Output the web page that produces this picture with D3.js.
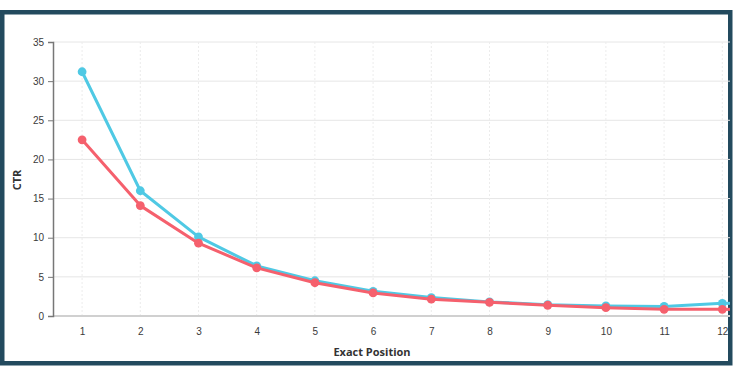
<!DOCTYPE html>
<html>
<head>
<meta charset="utf-8">
<script src="https://cdn.jsdelivr.net/npm/d3@7"></script>
<style>
  body { margin: 0; background: #fff; }
  svg { display: block; font-family: "Open Sans", "DejaVu Sans", sans-serif; }
</style>
</head>
<body>
<div id="chart"></div>
<script>
// positions 1..12 and the two CTR series
const positions = [1, 2, 3, 4, 5, 6, 7, 8, 9, 10, 11, 12];
const ctrBlue = [31.2, 16.0, 10.1, 6.4, 4.5, 3.15, 2.35, 1.8, 1.45, 1.28, 1.22, 1.62];
const ctrRed = [22.5, 14.1, 9.3, 6.15, 4.25, 2.95, 2.15, 1.75, 1.37, 1.06, 0.85, 0.85];
const yTicks = [0, 5, 10, 15, 20, 25, 30, 35];

const W = 735, H = 374;
const margin = {top: 42, left: 53, bottom: 58};
const step = 58.2;

const svg = d3.select("#chart").append("svg")
  .attr("width", W).attr("height", H);

// frame
svg.append("rect")
  .attr("x", 2.25).attr("y", 12.25)
  .attr("width", W - 7).attr("height", 351)
  .attr("fill", "#fff")
  .attr("stroke", "#234a5e").attr("stroke-width", 4.5);

svg.append("clipPath").attr("id", "clip")
  .append("rect").attr("x", 5).attr("y", 15).attr("width", 725).attr("height", 345);

const g = svg.append("g").attr("clip-path", "url(#clip)");

const x = d3.scalePoint()
  .domain(positions)
  .range([margin.left + step / 2, margin.left + step * 11.5]);
const y = d3.scaleLinear().domain([0, 35]).range([H - margin.bottom, margin.top]);

// grid
g.append("g").selectAll("line").data(yTicks.slice(1)).enter().append("line")
  .attr("x1", margin.left).attr("x2", W)
  .attr("y1", d => y(d)).attr("y2", d => y(d))
  .attr("stroke", "#e6e6e6").attr("stroke-width", 1);

g.append("g").selectAll("line").data(positions).enter().append("line")
  .attr("x1", d => x(d)).attr("x2", d => x(d))
  .attr("y1", y(35)).attr("y2", y(0))
  .attr("stroke", "#ececec").attr("stroke-dasharray", "2,2");

// x axis line
g.append("line")
  .attr("x1", margin.left).attr("x2", W)
  .attr("y1", y(0)).attr("y2", y(0))
  .attr("stroke", "#d0d0d0").attr("stroke-width", 2);

// y axis
const yAxis = g.append("g")
  .attr("transform", "translate(" + margin.left + ",0)")
  .call(d3.axisLeft(y).tickValues(yTicks).tickSize(5).tickPadding(4));
yAxis.select(".domain").attr("stroke", "#777").attr("stroke-width", 1.5);
yAxis.selectAll(".tick line").attr("stroke", "#777");
yAxis.selectAll("text").attr("fill", "#3a3a3a").style("font-size", "10px");

// x labels
const xAxis = g.append("g")
  .attr("transform", "translate(0," + y(0) + ")")
  .call(d3.axisBottom(x).tickSize(0).tickPadding(12));
xAxis.select(".domain").remove();
xAxis.selectAll("text").attr("fill", "#3a3a3a").style("font-size", "10px");

// titles
g.append("text")
  .attr("x", 372).attr("y", 356)
  .attr("text-anchor", "middle")
  .attr("font-size", "11px").attr("font-weight", "bold").attr("fill", "#333")
  .text("Exact Position");

g.append("text")
  .attr("transform", "translate(20.5,180) rotate(-90)")
  .attr("text-anchor", "middle")
  .attr("font-size", "11px").attr("font-weight", "bold").attr("fill", "#333")
  .text("CTR");

// series
const series = [
  {values: ctrBlue, color: "#4fc9e4"},
  {values: ctrRed, color: "#f5606d"}
];
const line = d3.line().x((d, i) => x(positions[i])).y(d => y(d));

for (const s of series) {
  g.append("path")
    .datum(s.values)
    .attr("d", line)
    .attr("fill", "none")
    .attr("stroke", s.color).attr("stroke-width", 3)
    .attr("stroke-linejoin", "round");
  g.append("g").selectAll("circle").data(s.values).enter().append("circle")
    .attr("cx", (d, i) => x(positions[i]))
    .attr("cy", d => y(d))
    .attr("r", 4.4)
    .attr("fill", s.color);
}

// the line continues past the last point to the frame edge
for (const s of series) {
  const n = s.values.length;
  g.append("line")
    .attr("x1", x(positions[n - 1])).attr("x2", W)
    .attr("y1", y(s.values[n - 1])).attr("y2", y(s.values[n - 1]))
    .attr("stroke", s.color).attr("stroke-width", 3);
}
</script>
</body>
</html>
